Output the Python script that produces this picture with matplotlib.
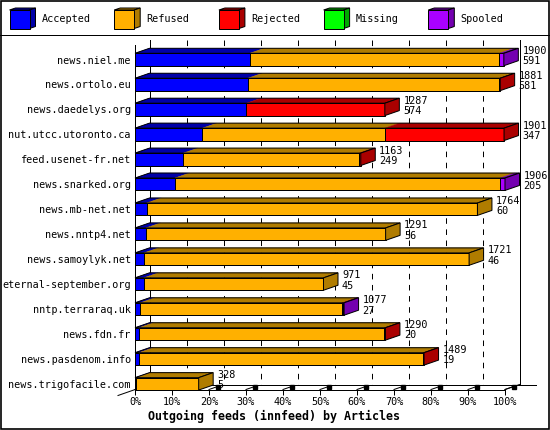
import matplotlib
matplotlib.use("Agg")
import matplotlib.pyplot as plt
from matplotlib.patches import Polygon, Rectangle
from matplotlib.lines import Line2D

# innfeed outgoing feeds, articles per peer
hosts = ['news.niel.me', 'news.ortolo.eu', 'news.daedelys.org', 'nut.utcc.utoronto.ca',
         'feed.usenet-fr.net', 'news.snarked.org', 'news.mb-net.net', 'news.nntp4.net',
         'news.samoylyk.net', 'eternal-september.org', 'nntp.terraraq.uk', 'news.fdn.fr',
         'news.pasdenom.info', 'news.trigofacile.com']
offered = [1900, 1881, 1287, 1901, 1163, 1906, 1764, 1291, 1721, 971, 1077, 1290, 1489, 328]
accepted = [591, 581, 574, 347, 249, 205, 60, 56, 46, 45, 27, 20, 19, 5]
refused = [1286, 1296, 0, 940, 905, 1676, 1704, 1235, 1675, 926, 1040, 1264, 1464, 323]
rejected = [0, 4, 713, 614, 9, 0, 0, 0, 0, 0, 5, 6, 6, 0]
missing = [0] * 14
spooled = [23, 0, 0, 0, 0, 25, 0, 0, 0, 0, 5, 0, 0, 0]

series_names = ['Accepted', 'Refused', 'Rejected', 'Missing', 'Spooled']
series_vals = [accepted, refused, rejected, missing, spooled]
front_cols = ['#0000ff', '#ffb000', '#ff0000', '#00ff00', '#aa00ff']
dark_cols = ['#0000a8', '#b07c00', '#aa0000', '#00a800', '#7400b0']
pct_ticks = list(range(0, 101, 10))

# layout in pixels
W, H = 550, 430
FX0, PX_PCT = 135, 3.7
ROW0, ROW_H = 59.5, 24.95
TOP_F, BOT_F = 45, 389.5
DX_PX, DY_PX = 14.5, 5
HALF_PX = 6.2
LW = 0.72
FONT = 'DejaVu Sans Mono'
FS = 7.3

plt.rcParams['font.family'] = FONT
plt.rcParams['lines.scale_dashes'] = False

fig = plt.figure(figsize=(W / 100, H / 100), dpi=100)
rect = [FX0 / W, (H - BOT_F) / H, 100 * PX_PCT / W, (BOT_F - TOP_F) / H]
y_top = (TOP_F - ROW0) / ROW_H
y_bot = (BOT_F - ROW0) / ROW_H
dx = DX_PX / PX_PCT
dy = DY_PX / ROW_H
bh = HALF_PX / ROW_H
back_top = y_top - dy
back_bot = y_bot - dy

# back wall and dashed gridlines on a background axes with the same scales
bg = fig.add_axes(rect)
bg.set_xlim(0, 100)
bg.set_ylim(y_bot, y_top)
bg.axis('off')
for p in pct_ticks[1:-1]:
    bg.plot([p + dx, p + dx], [back_top, back_bot], color='black', lw=LW,
            linestyle=(0, (4, 4)), clip_on=False)
for p in (0, 100):
    bg.plot([p + dx, p + dx], [back_top, back_bot], color='black', lw=LW, clip_on=False)

ax = fig.add_axes(rect)
ax.patch.set_visible(False)
ax.set_xlim(0, 100)
ax.set_ylim(y_bot, y_top)

# bars
top_max = max(offered)
for i in range(len(hosts)):
    left = 0
    last_dark = dark_cols[0]
    for vals, fc, dc in zip(series_vals, front_cols, dark_cols):
        w = vals[i] / top_max * 100
        if w <= 0:
            continue
        ax.barh(i, w, left=left, height=2 * bh, color=fc, edgecolor='black', lw=LW, zorder=4, clip_on=False)
        ax.add_patch(Polygon([(left, i - bh), (left + dx, i - bh - dy), (left + w + dx, i - bh - dy),
                              (left + w, i - bh)], closed=True, fc=dc, ec=dc, lw=0.3, zorder=3, clip_on=False))
        left += w
        last_dark = dc
    ax.add_patch(Polygon([(0, i - bh), (dx, i - bh - dy), (left + dx, i - bh - dy), (left, i - bh)],
                         closed=True, fill=False, ec='black', lw=LW, zorder=5, clip_on=False))
    ax.add_patch(Polygon([(left, i - bh), (left + dx, i - bh - dy), (left + dx, i + bh - dy), (left, i + bh)],
                         closed=True, fc=last_dark, ec='black', lw=LW, zorder=5, clip_on=False))
    tx = left + dx + 4 / PX_PCT
    ax.text(tx, i - 8.7 / ROW_H, str(offered[i]), fontsize=FS, va='center', ha='left', zorder=6)
    ax.text(tx, i + 1.5 / ROW_H, str(accepted[i]), fontsize=FS, va='center', ha='left', zorder=6)

# floor
ax.plot([dx, 100 + dx + 16 / PX_PCT], [back_bot, back_bot], color='black', lw=LW, zorder=2.5, clip_on=False)
ax.plot([100, 100 + dx], [y_bot, back_bot], color='black', lw=LW, zorder=2.5, clip_on=False)
ax.plot([dx, -17 / PX_PCT], [back_bot, y_bot + 6 / ROW_H], color='black', lw=LW, zorder=2.5, clip_on=False)
for p in pct_ticks:
    ax.plot([p, p + 0.5 * dx], [y_bot, y_bot - 0.5 * dy], color='black', lw=LW, zorder=2.5, clip_on=False)
    ax.plot([p + 0.6 * dx], [y_bot - 0.6 * dy], marker='s', ms=2.2, color='black', zorder=2.5, clip_on=False)

# axes
for s in ('top', 'right'):
    ax.spines[s].set_visible(False)
for s in ('left', 'bottom'):
    ax.spines[s].set_linewidth(LW)
    ax.spines[s].set_zorder(2.6)
ax.set_yticks(range(len(hosts)))
ax.set_yticklabels(hosts, fontsize=FS)
ax.set_xticks(pct_ticks)
ax.set_xticklabels([f'{p}%' for p in pct_ticks], fontsize=FS)
ax.tick_params(axis='y', length=0, pad=3)
ax.tick_params(axis='x', length=3.6, width=LW, pad=1.5)

fig.text(274 / W, 1 - 416.7 / H, 'Outgoing feeds (innfeed) by Articles', fontsize=8.4,
         fontweight='bold', ha='center', va='center')

# legend strip
leg = fig.add_axes([0, (H - 35) / H, 1, 35 / H])
leg.set_xlim(0, W)
leg.set_ylim(35, 0)
leg.axis('off')
for k, (name, fc, dc) in enumerate(zip(series_names, front_cols, dark_cols)):
    x0 = 9.5 + k * 104.7
    leg.add_patch(Polygon([(x0, 10), (x0 + 6, 8), (x0 + 26, 8), (x0 + 20, 10)], closed=True,
                          fc=dc, ec='black', lw=LW))
    leg.add_patch(Polygon([(x0 + 20, 10), (x0 + 26, 8), (x0 + 26, 26.5), (x0 + 20, 28.5)], closed=True,
                          fc=dc, ec='black', lw=LW))
    leg.add_patch(Rectangle((x0, 10), 20, 18.5, fc=fc, ec='black', lw=LW))
    leg.text(x0 + 32.5, 19.5, name, fontsize=FS, va='center', ha='left')

fig.add_artist(Line2D([0, 1], [1 - 35 / H, 1 - 35 / H], transform=fig.transFigure, color='black', lw=LW))
fig.add_artist(Rectangle((0.5 / W, 1.5 / H), 548.5 / W, 428 / H, transform=fig.transFigure,
                         fill=False, ec='black', lw=1.2))

fig.savefig('out.png', dpi=100)
